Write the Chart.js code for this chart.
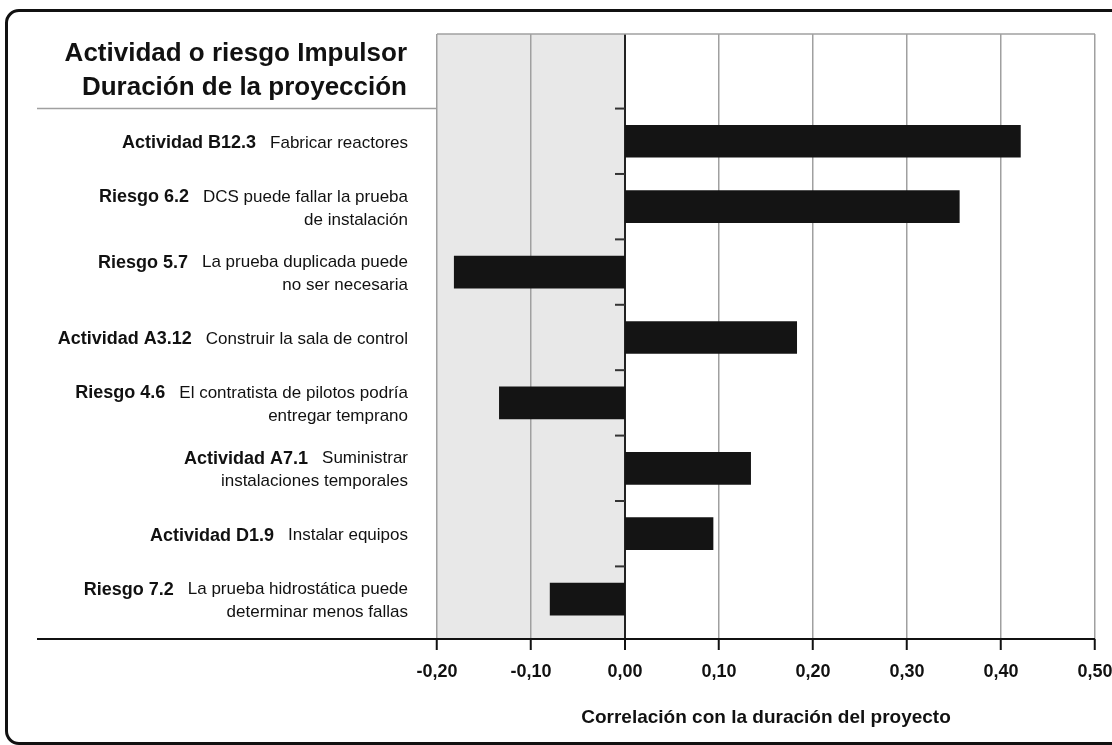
<!DOCTYPE html>
<html>
<head>
<meta charset="utf-8">
<script src="https://cdn.jsdelivr.net/npm/chart.js@4.4.1/dist/chart.umd.min.js"></script>
<style>
    html, body { margin: 0; padding: 0; background: #fff; overflow: hidden; }
    #frame {
        position: absolute; left: 5px; top: 9px; width: 1200px; height: 736px;
        box-sizing: border-box; border: 3px solid #111; border-radius: 14px;
    }
    #chart { position: absolute; left: 0; top: 0; }
</style>
</head>
<body>
<div id="frame"></div>
<canvas id="chart" width="1112" height="745"></canvas>
<script>
const FONT = "'Liberation Sans', Arial, sans-serif";

const titleLines = ["Actividad o riesgo Impulsor", "Duración de la proyección"];
const axisTitle = "Correlación con la duración del proyecto";

const prefixes = [
    "Actividad B12.3",
    "Riesgo 6.2",
    "Riesgo 5.7",
    "Actividad A3.12",
    "Riesgo 4.6",
    "Actividad A7.1",
    "Actividad D1.9",
    "Riesgo 7.2"
];
const descriptions = [
    ["Fabricar reactores"],
    ["DCS puede fallar la prueba", "de instalación"],
    ["La prueba duplicada puede", "no ser necesaria"],
    ["Construir la sala de control"],
    ["El contratista de pilotos podría", "entregar temprano"],
    ["Suministrar", "instalaciones temporales"],
    ["Instalar equipos"],
    ["La prueba hidrostática puede", "determinar menos fallas"]
];
const correlations = [0.421, 0.356, -0.182, 0.183, -0.134, 0.134, 0.094, -0.080];

const xMin = -0.2;
const xMax = 0.5;
const xStep = 0.1;

// empty room above the first row / below the last one, in rows
const EXTRA_TOP = 1.14;
const EXTRA_BOTTOM = 0.11;

const isZero = (v) => Math.abs(v) < 1e-9;
const formatTick = (v) => (isZero(v) ? 0 : v).toFixed(2).replace(".", ",");

function line(ctx, x1, y1, x2, y2) {
    ctx.beginPath();
    ctx.moveTo(x1, y1);
    ctx.lineTo(x2, y2);
    ctx.stroke();
}

const decorations = {
    id: "decorations",
    beforeDraw(chart) {
        const { ctx, chartArea: a, scales: { x } } = chart;
        const x0 = x.getPixelForValue(xMin);
        const x1 = x.getPixelForValue(0);
        ctx.save();
        ctx.fillStyle = "#e8e8e8";
        ctx.fillRect(x0, a.top, x1 - x0, a.bottom - a.top);
        ctx.restore();
    },
    afterDraw(chart) {
        const { ctx, chartArea: a, scales: { x, y } } = chart;
        const zeroX = x.getPixelForValue(0);
        const step = y.getPixelForValue(1) - y.getPixelForValue(0);
        const firstEdge = y.getPixelForValue(0) - step / 2;

        ctx.save();
        ctx.strokeStyle = "#a0a0a0";
        ctx.lineWidth = 1.5;
        line(ctx, a.left, a.top, a.right, a.top);
        line(ctx, 37, firstEdge, a.left, firstEdge);

        ctx.strokeStyle = "#111";
        ctx.lineWidth = 2;
        line(ctx, 37, a.bottom, a.right, a.bottom);

        ctx.strokeStyle = "#333";
        prefixes.forEach((_, i) => {
            const yy = y.getPixelForValue(i) - step / 2;
            line(ctx, zeroX - 10, yy, zeroX, yy);
        });

        ctx.fillStyle = "#111";
        ctx.textAlign = "right";
        ctx.textBaseline = "alphabetic";
        ctx.font = "bold 26px " + FONT;
        ctx.fillText(titleLines[0], 407, 61);
        ctx.fillText(titleLines[1], 407, 95);

        const right = 408, gap = 14, lineGap = 23;
        ctx.textBaseline = "middle";
        prefixes.forEach((prefix, i) => {
            const lines = descriptions[i];
            const top = y.getPixelForValue(i) + 2 - (lines.length - 1) * lineGap / 2;
            lines.forEach((text, j) => {
                const ly = top + j * lineGap;
                ctx.font = "17px " + FONT;
                ctx.fillText(text, right, ly);
                if (j === 0) {
                    const w = ctx.measureText(text).width;
                    ctx.font = "bold 18px " + FONT;
                    ctx.fillText(prefix, right - w - gap, ly);
                }
            });
        });
        ctx.restore();
    }
};

new Chart(document.getElementById("chart"), {
    type: "bar",
    data: {
        labels: prefixes,
        datasets: [{
            data: correlations,
            backgroundColor: "#141414",
            borderWidth: 0,
            barPercentage: 0.5,
            categoryPercentage: 1
        }]
    },
    options: {
        indexAxis: "y",
        responsive: false,
        animation: false,
        layout: { padding: { top: 34, right: 17, bottom: 0, left: 0 } },
        plugins: { legend: { display: false }, tooltip: { enabled: false } },
        scales: {
            x: {
                min: xMin,
                max: xMax,
                border: { display: false },
                grid: {
                    color: (c) => isZero(c.tick.value) ? "#222" : "#a0a0a0",
                    lineWidth: (c) => isZero(c.tick.value) ? 2 : 1.5,
                    tickLength: 11,
                    tickColor: "#111",
                    tickWidth: 2
                },
                ticks: {
                    stepSize: xStep,
                    padding: 11,
                    color: "#111",
                    font: { family: FONT, size: 18, weight: "bold" },
                    callback: (v) => formatTick(v)
                },
                title: {
                    display: true,
                    text: axisTitle,
                    color: "#111",
                    font: { family: FONT, size: 19, weight: "bold" },
                    padding: { top: 0, bottom: 16 }
                },
                afterFit: (s) => {
                    s.height = 106;
                    s.paddingLeft = 0;
                    s.paddingRight = 0;
                }
            },
            y: {
                grid: { display: false },
                border: { display: false },
                ticks: { display: false },
                afterFit: (s) => { s.width = 437; },
                afterBuildTicks: (s) => {
                    s._startValue -= EXTRA_TOP;
                    s._valueRange += EXTRA_TOP + EXTRA_BOTTOM;
                }
            }
        }
    },
    plugins: [decorations]
});
</script>
</body>
</html>
